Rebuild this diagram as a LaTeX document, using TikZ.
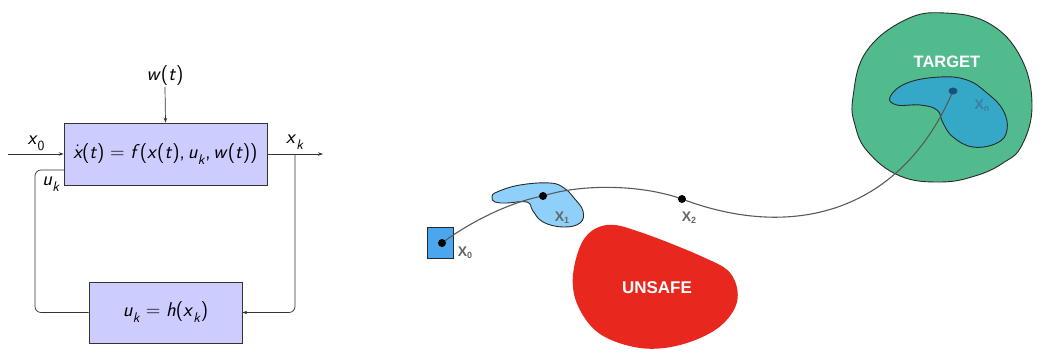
\documentclass[tikz,border=0pt]{standalone}
\usepackage{fontspec}
\usetikzlibrary{arrows.meta,shapes.geometric}
\newfontfamily\lbl{Liberation Sans}
\newcommand{\vi}[1]{\textit{#1}}
\newcommand{\sbs}[1]{\raisebox{-0.3em}{\fontsize{14}{14}\selectfont\textit{#1}}}
\newcommand{\sbu}[1]{\raisebox{-0.3em}{\fontsize{14}{14}\selectfont #1}}
\newcommand{\xdot}{$\dot{\hbox{\sffamily\itshape x}}$}
\newcommand{\eqs}{\hspace{0.28em}=\hspace{0.28em}}
\definecolor{boxfill}{HTML}{CCCCFF}
\definecolor{lineg}{HTML}{333333}
\definecolor{tgreen}{HTML}{52BB8D}
\definecolor{xnblue}{HTML}{35A8C8}
\definecolor{xoneblue}{HTML}{8FD0FB}
\definecolor{xzeroblue}{HTML}{4BA6EE}
\definecolor{unsafered}{HTML}{E8271F}
\definecolor{lblgray}{HTML}{666666}
\definecolor{xnlbl}{HTML}{3C7FA6}
\definecolor{xndot}{HTML}{1F4F7C}
\definecolor{outl}{HTML}{2A2A2A}
\tikzset{
  blk/.style={draw=lineg, fill=boxfill, line width=0.7pt, inner sep=0pt, font=\sffamily\fontsize{20}{22}\selectfont},
  conn/.style={draw=lineg, line width=0.7pt},
  arr/.style={conn, -{Stealth[length=5pt,width=3.5pt]}},
  mlbl/.style={font=\sffamily\fontsize{20}{22}\selectfont, inner sep=0pt},
  traj/.style={draw=black!65, line width=1.1pt},
  dotn/.style={circle, fill=black, inner sep=0pt, minimum size=8pt},
  ndot/.style={ellipse, fill=xndot, inner sep=0pt, minimum width=9pt, minimum height=7pt},
  slbl/.style={font=\lbl\bfseries\fontsize{14}{16}\selectfont, text=lblgray, inner sep=0pt},
  region/.style={draw=outl, line width=0.9pt},
}
\begin{document}
\begin{tikzpicture}[x=1pt,y=-1pt]
\useasboundingbox (0,0) rectangle (1042,354);
% ---- left block diagram
\node[blk, minimum width=203pt, minimum height=62pt] (main) at (165.5,154) {\xdot(\vi{t})\eqs\vi{f}(\vi{x}(\vi{t}),\hspace{0.15em}\vi{u}\sbs{k},\hspace{0.15em}\vi{w}(\vi{t}))};
\node[blk, minimum width=153pt, minimum height=61pt] (ctrl) at (165.5,312.5) {\vi{u}\sbs{k}\eqs\vi{h}(\vi{x}\sbs{k})};
\node[mlbl] (wt) at (165,76) {\vi{w}(\vi{t})};
\coordinate (wtop) at (165,87);
\coordinate (in) at (8,154);
\coordinate (out) at (323,154);
\coordinate (br) at (295,154);
\coordinate (fbc) at (35,170);
\coordinate (fbin) at (64,170);
\draw[arr] (wtop) -- (main.north);
\draw[arr] (in) -- (main.west);
\draw[arr] (main.east) -- (out);
\draw[arr, rounded corners=6pt] (br) |- (ctrl.east);
\draw[conn, rounded corners=6pt] (ctrl.west) -| (fbc) -- (fbin);
\node[mlbl] (lx0) at (36,143) {\vi{x}\sbu{0}};
\node[mlbl] (lxk) at (295,142) {\vi{x}\sbs{k}};
\node[mlbl] (luk) at (51,184) {\vi{u}\sbs{k}};
% ---- right scene
\draw[region, fill=tgreen] plot[smooth cycle, tension=0.7] coordinates {(853,97) (866,52) (905,20) (945,13) (990,24) (1021,58) (1032,105) (1022,145) (1003,163) (975,176) (940,182) (900,176) (868,152) (855,125)};
\draw[region, fill=xnblue] plot[smooth cycle, tension=0.7] coordinates {(890,97) (907,83) (940,77) (967,80) (987,93) (1003,110) (1007,130) (997,143) (973,147) (953,137) (943,123) (937,110) (920,105) (897,105)};
\fill[unsafered] plot[smooth cycle, tension=0.6] coordinates {(573,275) (584,239) (607,225) (640,232) (703,257) (731,274) (737,302) (718,328) (680,345) (640,348) (600,334) (578,306)};
\draw[region, fill=xoneblue] plot[smooth cycle, tension=0.7] coordinates {(497,192) (520,185) (550,183) (564,188) (574,198) (583,211) (580,223) (563,227) (543,222) (533,211) (527,202) (507,203) (495,202) (492,197)};
\node[draw=outl, fill=xzeroblue, line width=0.9pt, minimum width=26pt, minimum height=31pt, inner sep=0pt] (sq) at (440,242.5) {};
\node[font=\lbl\bfseries\fontsize{16.5}{18}\selectfont, text=white] (ttarget) at (947,62) {TARGET};
\node[font=\lbl\bfseries\fontsize{17}{19}\selectfont, text=white] (tunsafe) at (657,288) {UNSAFE};
% dots (named positions)
\coordinate (d0) at (442,243);
\coordinate (d1) at (543,196);
\coordinate (d2) at (682,199);
\coordinate (dn) at (953,91);
% trajectory
\draw[traj] (d0) .. controls (470,222) and (510,202) .. (d1)
  .. controls (580,184) and (640,184) .. (d2)
  .. controls (790,240) and (900,215) .. (dn);
\node[dotn] (n0) at (d0) {};
\node[dotn] (n1) at (d1) {};
\node[dotn] (n2) at (d2) {};
\node[ndot] (nn) at (dn) {};
% labels
\node[slbl] (l0) at (465,253) {X\raisebox{-2pt}{\fontsize{9}{10}\selectfont 0}};
\node[slbl] (l1) at (562,218) {X\raisebox{-2pt}{\fontsize{9}{10}\selectfont 1}};
\node[slbl] (l2) at (689,218) {X\raisebox{-2pt}{\fontsize{9}{10}\selectfont 2}};
\node[slbl, text=xnlbl] (ln) at (982,106) {X\raisebox{-2pt}{\fontsize{9}{10}\selectfont n}};
\end{tikzpicture}
\end{document}
